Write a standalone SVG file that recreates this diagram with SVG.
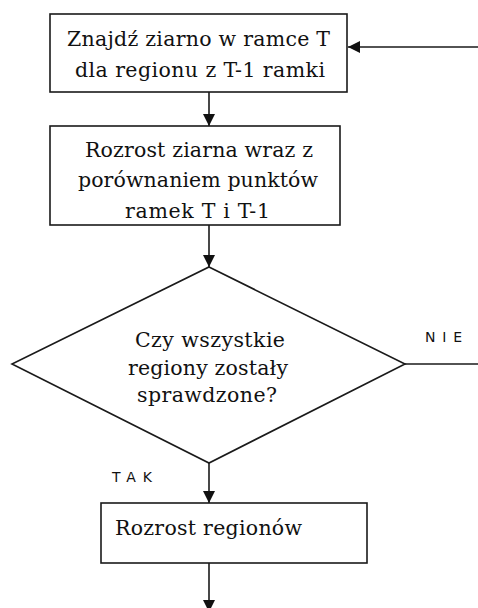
<svg xmlns="http://www.w3.org/2000/svg" width="478" height="608" viewBox="0 0 478 608">
  <style>
    .box { fill: #ffffff; stroke: #1a1a1a; stroke-width: 1.6; }
    .edge { fill: none; stroke: #1a1a1a; stroke-width: 1.6; }
    text.txt { font-family: "DejaVu Serif", "Liberation Serif", serif; font-size: 20.5px; fill: #111111; }
    text.lbl { font-family: "DejaVu Sans", "Liberation Sans", sans-serif; font-size: 14px; fill: #111111; }
  </style>
  <defs>
    <marker id="arrow" viewBox="0 0 12 12" refX="12" refY="6" markerWidth="12" markerHeight="12" markerUnits="userSpaceOnUse" orient="auto">
      <path d="M0,0 L12,6 L0,12 Z" fill="#111111"/>
    </marker>
  </defs>
  <rect width="478" height="608" fill="#ffffff"/>

  <g id="connectors">
    <!-- loop back from the NIE branch into the first step -->
    <line class="edge" x1="478" y1="47" x2="348" y2="47" marker-end="url(#arrow)"/>
    <line class="edge" x1="209" y1="92" x2="209" y2="126" marker-end="url(#arrow)"/>
    <line class="edge" x1="209" y1="225" x2="209" y2="267" marker-end="url(#arrow)"/>
    <line class="edge" x1="405" y1="364" x2="478" y2="364"/>
    <line class="edge" x1="209" y1="463" x2="209" y2="503" marker-end="url(#arrow)"/>
    <line class="edge" x1="209" y1="563" x2="209" y2="612" marker-end="url(#arrow)"/>
    <text class="lbl" x="425" y="342" textLength="37" lengthAdjust="spacing">NIE</text>
    <text class="lbl" x="112" y="482" textLength="40" lengthAdjust="spacing">TAK</text>
  </g>

  <g id="find-seed">
    <rect class="box" x="50" y="14" width="297" height="78"/>
    <text class="txt" x="67" y="46" textLength="263" lengthAdjust="spacing">Znajdź ziarno w ramce T</text>
    <text class="txt" x="75" y="77" textLength="250" lengthAdjust="spacing">dla regionu z T-1 ramki</text>
  </g>

  <g id="grow-seed">
    <rect class="box" x="50" y="126" width="290" height="99"/>
    <text class="txt" x="85" y="157" textLength="228" lengthAdjust="spacing">Rozrost ziarna wraz z</text>
    <text class="txt" x="78" y="187" textLength="240" lengthAdjust="spacing">porównaniem punktów</text>
    <text class="txt" x="125" y="218" textLength="145" lengthAdjust="spacing">ramek T i T-1</text>
  </g>

  <g id="all-checked">
    <polygon class="box" points="209,267 405,364 209,463 12,364"/>
    <text class="txt" x="135" y="347" textLength="150" lengthAdjust="spacing">Czy wszystkie</text>
    <text class="txt" x="128" y="375" textLength="160" lengthAdjust="spacing">regiony zostały</text>
    <text class="txt" x="137" y="402" textLength="140" lengthAdjust="spacing">sprawdzone?</text>
  </g>

  <g id="grow-regions">
    <rect class="box" x="101" y="503" width="266" height="60"/>
    <text class="txt" x="115" y="535" textLength="187" lengthAdjust="spacing">Rozrost regionów</text>
  </g>
</svg>
